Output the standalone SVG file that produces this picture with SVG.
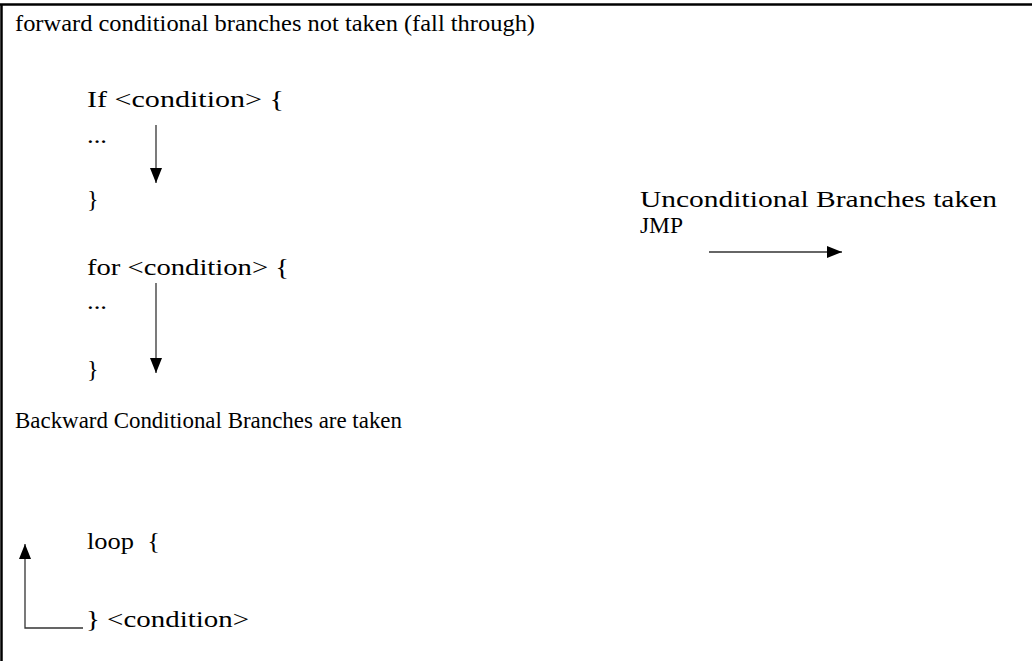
<svg xmlns="http://www.w3.org/2000/svg" width="1032" height="661" viewBox="0 0 1032 661">
<style>
  .t { font-family: "Liberation Serif", "Times New Roman", serif; font-size: 24px; fill: #000; }
  .c { fill: none; stroke: #333; stroke-width: 1.3; }
  .frame { fill: none; stroke: #000; stroke-width: 2.5; }
</style>
<defs>
  <marker id="ah" markerUnits="userSpaceOnUse" markerWidth="16" markerHeight="13" refX="15" refY="6" orient="auto">
    <path d="M0,0 L15,6 L0,12 z" fill="#000"/>
  </marker>
</defs>
<rect width="1032" height="661" fill="#fff"/>
<g id="frame">
  <line class="frame" x1="0" y1="4.5" x2="1032" y2="4.5"/>
  <line class="frame" x1="1.5" y1="4" x2="1.5" y2="661"/>
</g>
<g id="forward">
  <text class="t" x="15" y="31" textLength="520" lengthAdjust="spacingAndGlyphs">forward conditional branches not taken (fall through)</text>
</g>
<g id="if-block">
  <text class="t" x="87" y="107" textLength="197" lengthAdjust="spacingAndGlyphs">If &lt;condition&gt; {</text>
  <text class="t" x="87" y="143" textLength="20" lengthAdjust="spacingAndGlyphs">...</text>
  <text class="t" x="87" y="207">}</text>
</g>
<g id="for-block">
  <text class="t" x="87" y="275" textLength="202" lengthAdjust="spacingAndGlyphs">for &lt;condition&gt; {</text>
  <text class="t" x="87" y="309" textLength="20" lengthAdjust="spacingAndGlyphs">...</text>
  <text class="t" x="87" y="377">}</text>
</g>
<g id="backward">
  <text class="t" x="15" y="428" textLength="387" lengthAdjust="spacingAndGlyphs">Backward Conditional Branches are taken</text>
</g>
<g id="loop-block">
  <text class="t" x="87" y="549" xml:space="preserve" textLength="73" lengthAdjust="spacingAndGlyphs">loop  {</text>
  <text class="t" x="86" y="627" textLength="163" lengthAdjust="spacingAndGlyphs">} &lt;condition&gt;</text>
</g>
<g id="unconditional">
  <text class="t" x="640" y="207" textLength="357" lengthAdjust="spacingAndGlyphs">Unconditional Branches taken</text>
  <text class="t" x="640" y="233" textLength="43" lengthAdjust="spacingAndGlyphs">JMP</text>
</g>
<g id="connectors">
  <line class="c" x1="156" y1="125" x2="156" y2="183" marker-end="url(#ah)"/>
  <line class="c" x1="156" y1="283" x2="156" y2="373" marker-end="url(#ah)"/>
  <line class="c" x1="709" y1="252" x2="842" y2="252" marker-end="url(#ah)"/>
  <polyline class="c" points="83,628 25,628 25,544" marker-end="url(#ah)"/>
</g>
</svg>
